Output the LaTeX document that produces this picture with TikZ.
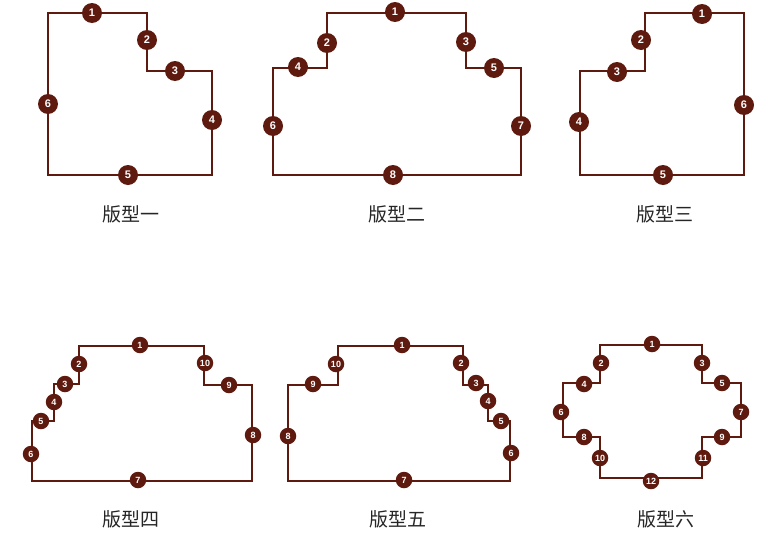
\documentclass[tikz,border=0pt]{standalone}
\usepackage{fontspec}
\setmainfont{Liberation Sans}
\newfontfamily\cjk{Noto Sans CJK SC}
\definecolor{brn}{HTML}{5E1A0E}
\tikzset{
  edge/.style={draw=brn,line width=2.1pt},
  mk/.style={circle,fill=brn,text=white,inner sep=0pt,minimum size=20pt,font=\fontsize{11}{11}\selectfont\bfseries},
  mks/.style={circle,fill=brn,text=white,inner sep=0pt,minimum size=16.5pt,font=\fontsize{9}{9}\selectfont\bfseries},
  captxt/.style={font=\cjk\fontsize{19}{19}\selectfont,text=black!85}
}
\begin{document}
\begin{tikzpicture}[x=1pt,y=-1pt]
\useasboundingbox (0,0) rectangle (781,538);
% shape 1
\draw[edge] (48,13)--(147,13)--(147,71)--(212,71)--(212,175)--(48,175)--cycle;
\foreach \n/\x/\y in {1/92/13,2/147/40,3/175/71,4/212/120,5/128/175,6/48/104}
  \node[mk] (a\n) at (\x,\y) {\n};
\node[captxt] (c1) at (131,214) {版型一};
% shape 2
\draw[edge] (273,68)--(327,68)--(327,13)--(466,13)--(466,68)--(521,68)--(521,175)--(273,175)--cycle;
\foreach \n/\x/\y in {1/395/12,2/327/43,3/466/42,4/298/67,5/494/68,6/273/126,7/521/126,8/393/175}
  \node[mk] (b\n) at (\x,\y) {\n};
\node[captxt] (c2) at (397,214) {版型二};
% shape 3
\draw[edge] (580,71)--(645,71)--(645,13)--(744,13)--(744,175)--(580,175)--cycle;
\foreach \n/\x/\y in {1/702/14,2/641/40,3/617/72,4/579/122,5/663/175,6/744/105}
  \node[mk] (d\n) at (\x,\y) {\n};
\node[captxt] (c3) at (665,214) {版型三};
% shape 4
\draw[edge] (79,346)--(204,346)--(204,385)--(252,385)--(252,481)--(32,481)--(32,421)--(54,421)--(54,384)--(79,384)--cycle;
\foreach \n/\x/\y in {1/140/345,2/79/364,3/65/384,4/54/402,5/41/421,6/31/454,7/138/480,8/253/435,9/229/385,10/205/363}
  \node[mks] (e\n) at (\x,\y) {\n};
\node[captxt] (c4) at (131,519) {版型四};
% shape 5
\draw[edge] (338,346)--(463,346)--(463,385)--(488,385)--(488,421)--(510,421)--(510,481)--(288,481)--(288,385)--(338,385)--cycle;
\foreach \n/\x/\y in {1/402/345,2/461/363,3/476/383,4/488/401,5/501/421,6/511/453,7/404/480,8/288/436,9/313/384,10/336/364}
  \node[mks] (f\n) at (\x,\y) {\n};
\node[captxt] (c5) at (398,519) {版型五};
% shape 6
\draw[edge] (600,345)--(702,345)--(702,383)--(741,383)--(741,437)--(702,437)--(702,478)--(600,478)--(600,437)--(563,437)--(563,383)--(600,383)--cycle;
\foreach \n/\x/\y in {1/652/344,2/601/363,3/702/363,4/584/384,5/722/383,6/561/412,7/741/412,8/584/437,9/722/437,10/600/458,11/703/458,12/651/481}
  \node[mks] (g\n) at (\x,\y) {\n};
\node[captxt] (c6) at (666,519) {版型六};
\end{tikzpicture}
\end{document}
